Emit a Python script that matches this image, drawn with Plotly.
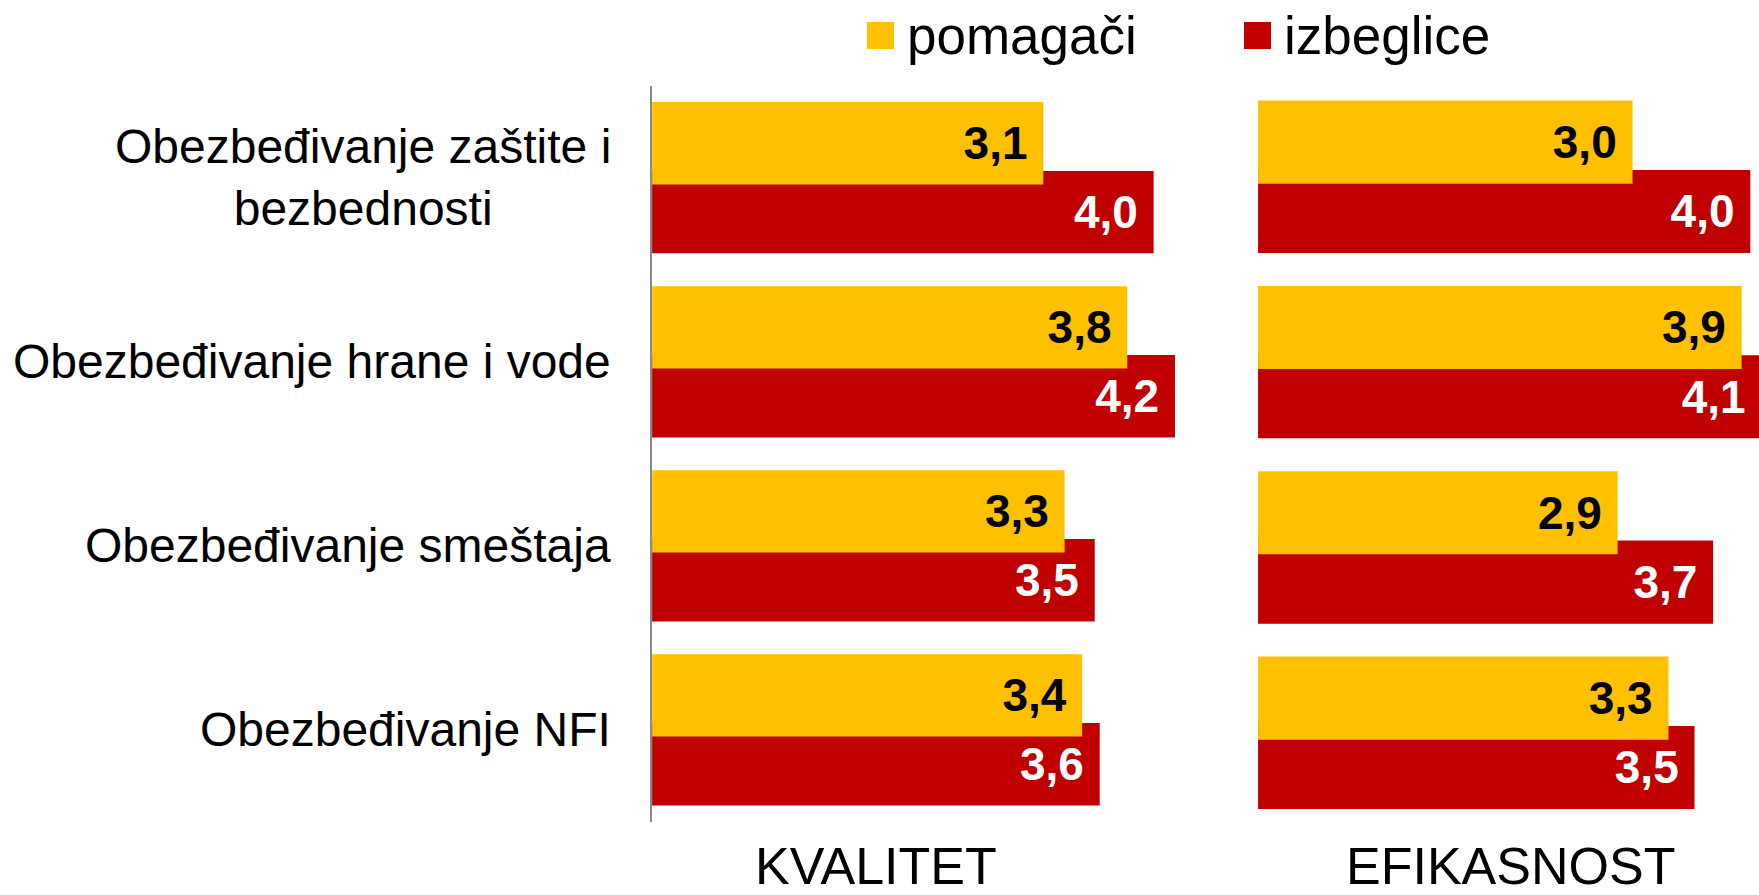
import plotly.graph_objects as go

# ---------------- data ----------------
categories = [
    "Obezbeđivanje zaštite i<br>bezbednosti",
    "Obezbeđivanje hrane i vode",
    "Obezbeđivanje smeštaja",
    "Obezbeđivanje NFI",
]
series_names = ["pomagači", "izbeglice"]
panel_titles = ["KVALITET", "EFIKASNOST"]

kvalitet_pomagaci = [3.12, 3.79, 3.29, 3.43]
kvalitet_izbeglice = [4.00, 4.17, 3.53, 3.57]
efikasnost_pomagaci = [3.02, 3.90, 2.90, 3.31]
efikasnost_izbeglice = [3.97, 4.06, 3.67, 3.52]

# ---------------- style ----------------
YELLOW = "#FFC000"
RED = "#C00000"
FONT = "Liberation Sans, Arial, sans-serif"
BAR_W = 0.448
OFF_YELLOW = -0.411
OFF_RED = -0.037

positions = list(range(len(categories)))


def lab(v):
    return f"{v:.1f}".replace(".", ",") + "\u00a0"


fig = go.Figure()

panels = [
    ("x", "y", kvalitet_pomagaci, kvalitet_izbeglice),
    ("x2", "y2", efikasnost_pomagaci, efikasnost_izbeglice),
]
for xa, ya, pom, izb in panels:
    # red first (drawn underneath), yellow on top
    fig.add_trace(go.Bar(
        x=izb, y=positions, orientation="h", name=series_names[1],
        offset=OFF_RED, width=BAR_W, marker=dict(color=RED, line=dict(width=0)),
        text=[lab(v) for v in izb], textposition="inside", insidetextanchor="end",
        insidetextfont=dict(color="white", size=46, family=FONT, weight="bold"),
        showlegend=False, xaxis=xa, yaxis=ya, hoverinfo="skip",
    ))
    fig.add_trace(go.Bar(
        x=pom, y=positions, orientation="h", name=series_names[0],
        offset=OFF_YELLOW, width=BAR_W, marker=dict(color=YELLOW, line=dict(width=0)),
        text=[lab(v) for v in pom], textposition="inside", insidetextanchor="end",
        insidetextfont=dict(color="black", size=46, family=FONT, weight="bold"),
        showlegend=False, xaxis=xa, yaxis=ya, hoverinfo="skip",
    ))

annotations = []
# category labels
for i, c in enumerate(categories):
    annotations.append(dict(
        text=c, x=0.3485, xref="paper", xanchor="right", y=i, yref="y",
        yanchor="middle", align="center", showarrow=False,
        font=dict(size=48, family=FONT, color="black"),
    ))

W, H = 1759, 895
# panel titles
for t, (px, py) in zip(panel_titles, [(876, 866), (1510, 866)]):
    annotations.append(dict(
        text=t, x=px / W, y=1 - py / H, xref="paper", yref="paper", xanchor="center",
        yanchor="middle", showarrow=False,
        font=dict(size=52, family=FONT, color="black"),
    ))

# legend (swatches + labels)
shapes = []
legend_items = [(series_names[0], YELLOW, 867), (series_names[1], RED, 1244)]
for name, col, x0 in legend_items:
    shapes.append(dict(
        type="rect", xref="paper", yref="paper",
        x0=x0 / W, x1=(x0 + 27) / W, y0=1 - 49 / H, y1=1 - 22 / H,
        fillcolor=col, line=dict(width=0),
    ))
    annotations.append(dict(
        text=name, x=(x0 + 38) / W, y=1 - 35 / H, xref="paper", yref="paper",
        xanchor="left", yanchor="middle", showarrow=False,
        font=dict(size=53, family=FONT, color="black"),
    ))

fig.update_layout(
    width=W, height=H,
    margin=dict(l=0, r=0, t=0, b=0),
    paper_bgcolor="white", plot_bgcolor="white",
    barmode="overlay",
    font=dict(family=FONT, color="black"),
    xaxis=dict(domain=[0.3707, 0.69], range=[0, 4.479], visible=False, anchor="y"),
    yaxis=dict(domain=[0.0818, 0.9042], range=[3.5, -0.5], showline=True,
               linecolor="#898989", linewidth=2, showticklabels=False, ticks="",
               showgrid=False, zeroline=False, anchor="x"),
    xaxis2=dict(domain=[0.7152, 1.0], range=[0, 4.04], visible=False, anchor="y2"),
    yaxis2=dict(domain=[0.0777, 0.906], range=[3.5, -0.5], visible=False, anchor="x2"),
    annotations=annotations,
    shapes=shapes,
    showlegend=False,
)

fig.write_html(
    "out.html",
    config={"displayModeBar": False},
    post_script="document.body.style.margin='0';document.body.style.overflow='hidden';",
)
